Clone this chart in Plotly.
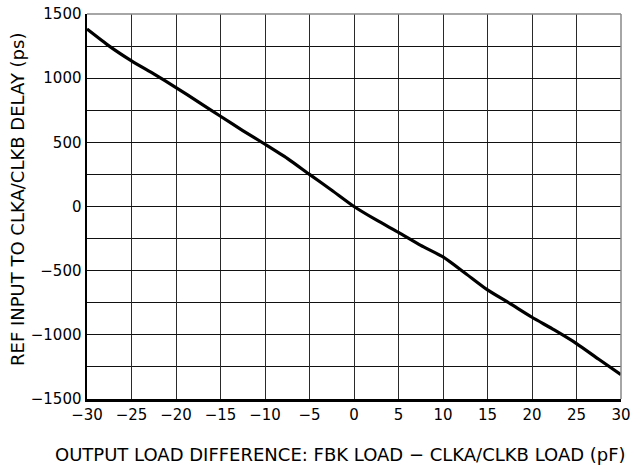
import plotly.graph_objects as go

load_diff_pf = [-30, -27.5, -25, -22.5, -20, -17.5, -15, -12.5, -10, -7.5, -5, -2.5,
                0, 2.5, 5, 7.5, 10, 12.5, 15, 17.5, 20, 22.5, 25, 27.5, 30]
delay_ps = [1383, 1250, 1135, 1033, 927, 815, 703, 592, 485, 375, 250, 127,
            0, -105, -202, -303, -393, -520, -650, -755, -863, -962, -1068, -1190, -1310]

x_ticks = [-30, -25, -20, -15, -10, -5, 0, 5, 10, 15, 20, 25, 30]
y_ticks = [1500, 1000, 500, 0, -500, -1000, -1500]

def lab(v):
    return ("\u2212" + str(abs(v))) if v < 0 else str(v)

FAM = "DejaVu Sans, Verdana, sans-serif"
font = dict(family=FAM, size=15, color="black")

PL, PR, PT, PB = 87, 621, 14, 399

fig = go.Figure()
fig.add_trace(go.Scatter(x=load_diff_pf, y=delay_ps, mode="lines",
                         line=dict(color="black", width=3.2, shape="spline", smoothing=0.6),
                         showlegend=False, hoverinfo="skip"))

fig.update_xaxes(range=[-30, 30], tickvals=x_ticks, ticktext=[lab(v) for v in x_ticks],
                 showgrid=True, gridcolor="#2a2a2a", gridwidth=1,
                 showline=True, linecolor="black", linewidth=2.5,
                 zeroline=False, ticks="", tickfont=font, automargin=False)
fig.update_yaxes(range=[-1500, 1500], tickvals=y_ticks, ticktext=[lab(v) for v in y_ticks],
                 showgrid=True, gridcolor="#111", gridwidth=1,
                 minor=dict(dtick=250, showgrid=True, gridcolor="#111", gridwidth=1, ticks=""),
                 showline=True, linecolor="black", linewidth=2.5,
                 zeroline=False, ticks="", tickfont=font, automargin=False)

fig.add_shape(type="line", xref="paper", yref="paper", x0=0, x1=1, y0=1, y1=1,
              line=dict(color="#888", width=1.5))
fig.add_shape(type="line", xref="paper", yref="paper", x0=1, x1=1, y0=0, y1=1,
              line=dict(color="#888", width=1.5))

W, H = PR - PL, PB - PT
fig.add_annotation(text="OUTPUT LOAD DIFFERENCE: FBK LOAD \u2212 CLKA/CLKB LOAD (pF)",
                   xref="paper", yref="paper", x=(340 - PL) / W, y=-(454 - PB) / H,
                   xanchor="center", yanchor="middle", showarrow=False,
                   font=dict(family=FAM, size=18, color="black"))
fig.add_annotation(text="REF INPUT TO CLKA/CLKB DELAY (ps)",
                   xref="paper", yref="paper", x=(17 - PL) / W, y=(PB - 200) / H,
                   xanchor="center", yanchor="middle", showarrow=False, textangle=-90,
                   font=dict(family=FAM, size=18, color="black"))

fig.update_layout(width=633, height=468,
                  margin=dict(l=PL, r=633 - PR, t=PT, b=468 - PB, pad=0),
                  paper_bgcolor="white", plot_bgcolor="white")

fig.write_html("out.html", config={"displayModeBar": False, "staticPlot": True},
               post_script="document.body.style.margin='0px';document.body.style.overflow='hidden';")
